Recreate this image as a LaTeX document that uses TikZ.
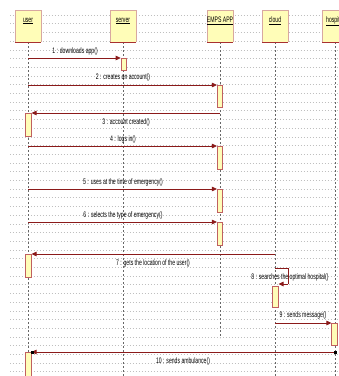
\documentclass[tikz,border=0pt]{standalone}
\usepackage{fontspec}
\newfontfamily\labfont[FakeStretch=0.64]{Liberation Sans}
\usetikzlibrary{arrows.meta}
\definecolor{msgred}{HTML}{8B1A1A}
\definecolor{boxfill}{HTML}{FFFDB8}
\definecolor{boxedge}{HTML}{D8A8A0}
\definecolor{boxbottom}{HTML}{A83030}
\definecolor{actedge}{HTML}{C06060}
\tikzset{
  gridline/.style={gray!50, line width=0.5pt, dash pattern=on 0.6pt off 2.4pt},
  lifeline/.style={gray!80!black, line width=0.7pt, dash pattern=on 2.2pt off 1.8pt},
  headtext/.style={font=\labfont\fontsize{8}{9}\selectfont, inner sep=0.5pt, anchor=center},
  actbox/.style={fill=boxfill, draw=actedge, line width=0.6pt},
  msg/.style={msgred, line width=0.8pt, -{Triangle[length=5pt,width=4.5pt]}},
  msgline/.style={msgred, line width=0.8pt},
  lab/.style={font=\labfont\fontsize{8}{9}\selectfont, inner sep=0pt, text=black},
  endsq/.style={fill=black, draw=none, minimum size=3pt, inner sep=0pt}
}
\begin{document}
\begin{tikzpicture}[x=1pt,y=-1pt]
\useasboundingbox (0,0) rectangle (339,376);
\clip (0,0) rectangle (339,376);
\fill[white] (0,0) rectangle (339,376);
% grid
\foreach \k in {0,...,41} {
  \draw[gridline] (10,15+8.7*\k) -- (339,15+8.7*\k);
}
% lifelines
\draw[lifeline] (28,42) -- (28,376);
\draw[lifeline] (123,42) -- (123,376);
\draw[lifeline] (220,42) -- (220,338);
\draw[lifeline] (275,42) -- (275,376);
\draw[lifeline] (335,42) -- (335,376);
% header boxes
\foreach \cx/\nm/\txt in {28/user/user,123/server/server,220/emps/EMPS APP,275/cloud/cloud,335/hosp/hospital} {
  \fill[boxfill] (\cx-13,10) rectangle (\cx+13,42);
  \draw[boxedge, line width=0.6pt] (\cx-13,42) -- (\cx-13,10) -- (\cx+13,10) -- (\cx+13,42);
  \draw[boxbottom, line width=0.8pt] (\cx-13,42) -- (\cx+13,42);
  \node[headtext] (h\nm) at (\cx,21) {\underline{\txt}};
}
% activations
\node[actbox, minimum width=5pt, minimum height=12pt, inner sep=0pt, anchor=north] (a1) at (123.5,58) {};
\node[actbox, minimum width=5.5pt, minimum height=22pt, inner sep=0pt, anchor=north] (a2) at (220,85) {};
\node[actbox, minimum width=5.5pt, minimum height=23pt, inner sep=0pt, anchor=north] (a3) at (28.5,113) {};
\node[actbox, minimum width=5.5pt, minimum height=23pt, inner sep=0pt, anchor=north] (a4) at (220,146) {};
\node[actbox, minimum width=5.5pt, minimum height=23pt, inner sep=0pt, anchor=north] (a5) at (220,189) {};
\node[actbox, minimum width=5.5pt, minimum height=23pt, inner sep=0pt, anchor=north] (a6) at (220,222) {};
\node[actbox, minimum width=5.5pt, minimum height=23pt, inner sep=0pt, anchor=north] (a7) at (28.5,254) {};
\node[actbox, minimum width=5.5pt, minimum height=21pt, inner sep=0pt, anchor=north] (a8) at (275.5,286) {};
\node[actbox, minimum width=5.5pt, minimum height=22pt, inner sep=0pt, anchor=north] (a9) at (334.5,323) {};
\node[actbox, minimum width=5.5pt, minimum height=26pt, inner sep=0pt, anchor=north] (a10) at (28.5,352) {};
% message coordinates
\coordinate (m1s) at (28,58);
\coordinate (m2s) at (28,85);
\coordinate (m3s) at (220,113);
\coordinate (m4s) at (28,146);
\coordinate (m5s) at (28,189);
\coordinate (m6s) at (28,222);
\coordinate (m7s) at (275,254);
\coordinate (m8s) at (275,268);
\coordinate (m8a) at (288,268);
\coordinate (m8b) at (288,284);
\coordinate (m8e) at (278.5,284);
\coordinate (m9s) at (275,323);
\coordinate (m10s) at (335,352);
% messages
\draw[msg] (m1s) -- (a1.north west);
\draw[msg] (m2s) -- (a2.north west);
\draw[msg] (m3s) -- (a3.north east);
\draw[msg] (m4s) -- (a4.north west);
\draw[msg] (m5s) -- (a5.north west);
\draw[msg] (m6s) -- (a6.north west);
\draw[msg] (m7s) -- (a7.north east);
\draw[msgline] (m8s) -- (m8a) -- (m8b);
\draw[msg] (m8b) -- (m8e);
\draw[msg] (m9s) -- (a9.north west);
\draw[msg] (m10s) -- (a10.north east);
\node[endsq] (sq1) at (335,352) {};
\node[endsq] (sq2) at (32.5,352) {};
% labels
\node[lab] (l1) at (75,51) {1 : downloads app()};
\node[lab] (l2) at (123,77) {2 : creates an account()};
\node[lab] (l3) at (126,122) {3 : account created()};
\node[lab] (l4) at (123,139) {4 : logs in()};
\node[lab] (l5) at (123,182) {5 : uses at the time of emergency()};
\node[lab] (l6) at (123,215) {6 : selects the type of emergency()};
\node[lab] (l7) at (153,263) {7 : gets the location of the user()};
\node[lab] (l8) at (290,277) {8 : searches the optimal hospital()};
\node[lab] (l9) at (303,315) {9 : sends message()};
\node[lab] (l10) at (183,361) {10 : sends ambulance()};
\end{tikzpicture}
\end{document}
